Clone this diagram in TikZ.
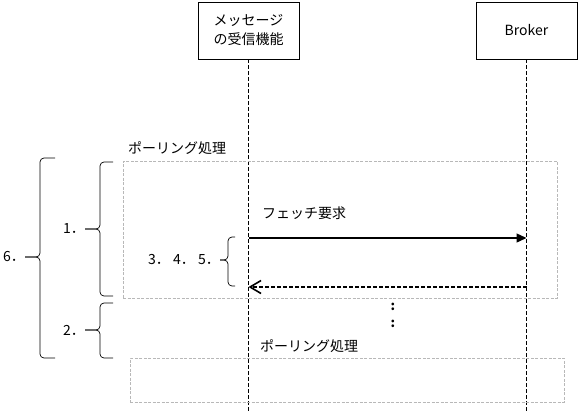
\documentclass[tikz,border=0pt]{standalone}
\usepackage{fontspec}
\setmainfont{Noto Sans CJK JP}
\usetikzlibrary{arrows.meta}
\begin{document}
\begin{tikzpicture}[
	x=1pt, y=-1pt,
	font=\fontsize{14}{19}\selectfont,
	actor/.style = {draw, line width=0.8pt, minimum width=101pt, minimum height=57pt, align=center},
	lifeline/.style = {line width=1.6pt, dash pattern=on 4pt off 2pt},
	pollframe/.style = {draw=black!28, line width=0.8pt, dash pattern=on 3pt off 1.5pt, minimum width=434pt},
	msg/.style = {line width=1.4pt, -{Triangle[length=10pt,width=9pt]}},
	reply/.style = {lifeline, -{Straight Barb[length=11pt,width=13pt]}},
	brc/.style = {rounded corners=4pt, line width=0.7pt},
	lbl/.style = {anchor=west, inner sep=0pt},
	num/.style = {anchor=east, inner sep=0pt},
	]
	\useasboundingbox (0,0) rectangle (579,413);
	% participants
	\node[actor] (recv) at (248.5,30.5) {メッセージ\\の受信機能};
	\node[actor] (broker) at (526.5,30.5) {Broker};
	\coordinate (bottom) at (0,413);
	\draw[lifeline] (recv.south) -- (recv.south |- bottom);
	\draw[lifeline] (broker.south) -- (broker.south |- bottom);
	% polling frames
	\node[pollframe, minimum height=137pt] (poll1) at (340,229.5) {};
	\node[lbl] (poll1lbl) at (128,148) {ポーリング処理};
	\node[pollframe, minimum height=44pt] (poll2) at (347,380) {};
	\node[lbl] (poll2lbl) at (260,346) {ポーリング処理};
	% messages
	\coordinate (req) at (0,238);
	\coordinate (res) at (0,287);
	\node[lbl] (fetch) at (262,213) {フェッチ要求};
	\draw[msg] (recv.south |- req) -- (broker.south |- req);
	\draw[reply] (broker.south |- res) -- (recv.south |- res);
	\node[align=center, font=\fontsize{13}{17}\bfseries] (dots) at (393,315) {:\\:};
	% braces
	\node[num] (n6) at (25,257) {6．};
	\draw[brc] (55,158) -- (40,158) |- (n6.east);
	\draw[brc] (55,358) -- (40,358) |- (n6.east);
	\node[num] (n1) at (85,229) {1．};
	\draw[brc] (113,162) -- (100,162) |- (n1.east);
	\draw[brc] (113,296) -- (100,296) |- (n1.east);
	\node[num] (n2) at (85,330) {2．};
	\draw[brc] (113,303) -- (100,303) |- (n2.east);
	\draw[brc] (113,358) -- (100,358) |- (n2.east);
	\node[num] (n345) at (220,260) {3． 4． 5．};
	\draw[brc] (235,237) -- (228,237) |- (n345.east);
	\draw[brc] (235,286) -- (228,286) |- (n345.east);
\end{tikzpicture}
\end{document}
